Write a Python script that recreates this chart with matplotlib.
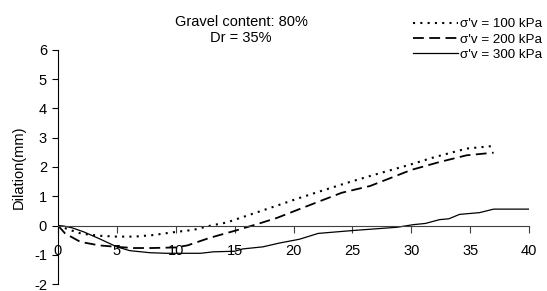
import matplotlib
matplotlib.use("Agg")
import matplotlib.pyplot as plt

plt.rcParams['font.family'] = ['Liberation Sans', 'DejaVu Sans']
plt.rcParams['axes.unicode_minus'] = False

# displacement (mm) vs dilation (mm)
x_100 = [0, 1, 2, 3.5, 5, 6.5, 8, 10, 11.5, 13, 14.3, 16.6, 18.6, 20.5, 22.5, 24.8, 27, 29.9, 32, 34.7, 37]
y_100 = [0, -0.15, -0.28, -0.35, -0.38, -0.38, -0.33, -0.22, -0.15, 0.0, 0.1, 0.41, 0.68, 0.94, 1.2, 1.49, 1.75, 2.08, 2.34, 2.63, 2.72]

x_200 = [0, 0.6, 1.9, 3.5, 5, 6.4, 8, 10, 11, 12.9, 15.2, 17.1, 18.6, 20.5, 22.1, 24.1, 26.5, 30, 32.4, 34.7, 37]
y_200 = [0, -0.27, -0.56, -0.68, -0.73, -0.77, -0.77, -0.75, -0.68, -0.42, -0.16, 0.07, 0.26, 0.56, 0.81, 1.12, 1.35, 1.9, 2.17, 2.4, 2.49]

x_300 = [0, 0.5, 1.2, 2.2, 3.5, 5, 6.1, 7.8, 9.2, 11, 12.1, 13.2, 15, 15.7, 17.4, 18.8, 20.5, 22.1, 25.1, 28.8, 30.2, 31.2, 32.4, 33.2, 34.1, 35.8, 37, 40]
y_300 = [0, -0.02, -0.08, -0.22, -0.45, -0.73, -0.86, -0.93, -0.95, -0.95, -0.95, -0.9, -0.88, -0.8, -0.73, -0.6, -0.47, -0.27, -0.17, -0.06, 0.03, 0.07, 0.2, 0.23, 0.38, 0.44, 0.56, 0.56]

labels = ["σ'v = 100 kPa", "σ'v = 200 kPa", "σ'v = 300 kPa"]
xticks = [0, 5, 10, 15, 20, 25, 30, 35, 40]
yticks = [-2, -1, 0, 1, 2, 3, 4, 5, 6]

fig = plt.figure(figsize=(5.47, 2.91), dpi=100)
ax = fig.add_axes([58/547, 1 - 284/291, (529 - 58)/547, (284 - 50)/291])

ax.plot(x_100, y_100, color='black', lw=1.5, linestyle=(0, (1, 2.5)), label=labels[0])
ax.plot(x_200, y_200, color='black', lw=1.3, linestyle=(0, (6, 3)), label=labels[1])
ax.plot(x_300, y_300, color='black', lw=0.9, linestyle='-', label=labels[2])

ax.set_xlim(0, 40)
ax.set_ylim(-2, 6)
ax.set_xticks(xticks)
ax.set_yticks(yticks)

ax.spines['top'].set_visible(False)
ax.spines['right'].set_visible(False)
ax.spines['bottom'].set_position(('data', 0))
ax.spines['bottom'].set_color('#404040')
ax.spines['left'].set_color('black')
ax.tick_params(axis='x', direction='out', length=5, width=0.8, pad=8, labelsize=10.5, color='#404040')
ax.tick_params(axis='y', direction='out', length=4, width=0.8, pad=4, labelsize=10.5)

ax.set_ylabel('Dilation(mm)', fontsize=10.5, labelpad=6)

fig.text(241/547, 1 - 22/291, 'Gravel content: 80%', ha='center', va='center', fontsize=10.5)
fig.text(241/547, 1 - 38/291, 'Dr = 35%', ha='center', va='center', fontsize=10.5)

fig.legend(loc='upper left', bbox_to_anchor=(413/547, 1 - 18/291), frameon=False,
           fontsize=9.6, handlelength=3.4, handletextpad=0.15, labelspacing=0.22,
           borderpad=0, borderaxespad=0)

fig.savefig('out.png', dpi=100)
